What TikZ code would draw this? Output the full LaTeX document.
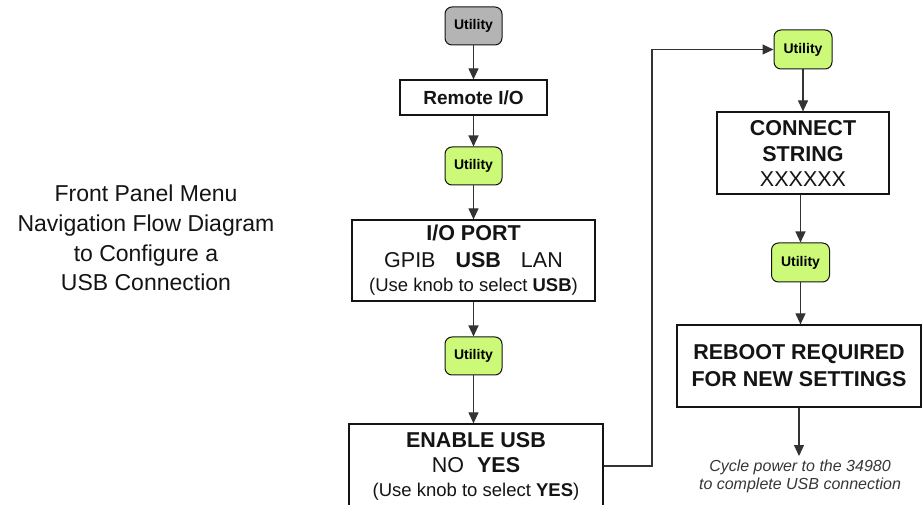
\documentclass[tikz,border=0pt]{standalone}
\usepackage{fontspec}
\setmainfont{Liberation Sans}
\usetikzlibrary{arrows.meta}
\definecolor{ugreen}{RGB}{204,250,120}
\definecolor{ugray}{RGB}{180,180,180}
\definecolor{ink}{RGB}{20,20,20}
\begin{document}
\begin{tikzpicture}[x=1pt,y=-1pt,
  utilbox/.style={draw=ink, line width=1pt, rounded corners=7pt, minimum width=57pt,
    minimum height=38pt, inner sep=0pt, font=\fontsize{14}{16}\selectfont\bfseries, fill=ugreen},
  menubox/.style={draw=ink, line width=1.2pt, fill=white, inner sep=0pt, align=center, text=ink,
    font=\fontsize{21.5}{26}\selectfont},
  flow/.style={line width=1.1pt, draw=black!80, -{Triangle[length=11pt,width=10pt]}},
  ]
\clip (0,0) rectangle (922,505);
\fill[white] (0,0) rectangle (922,505);

% left caption
\node[align=center, text=ink, font=\fontsize{23}{29.7}\selectfont] (caption) at (146,238)
  {Front Panel Menu\\Navigation Flow Diagram\\to Configure a\\USB Connection};

% left column
\node[utilbox, fill=ugray] (u1) at (473.5,26) {Utility};
\node[menubox, minimum width=147pt, minimum height=35pt, font=\fontsize{19}{22}\selectfont\bfseries] (remote) at (473.5,97.5) {Remote I/O};
\node[utilbox] (u2) at (473.5,166) {Utility};
\node[menubox, minimum width=243pt, minimum height=81pt] (ioport) at (473.5,260.5)
  {{\bfseries I/O PORT}\\[1pt]
   GPIB\hspace{20pt}\textbf{USB}\hspace{20pt}LAN\\[-2pt]
   {\fontsize{18.5}{22}\selectfont (Use knob to select \textbf{USB})}};
\node[utilbox] (u3) at (473.5,356) {Utility};
\node[menubox, minimum width=254pt, minimum height=84pt] (enable) at (476,466)
  {{\bfseries ENABLE USB}\\[-1pt]
   NO\hspace{13pt}\textbf{YES}\\[-2pt]
   {\fontsize{18.5}{22}\selectfont (Use knob to select \textbf{YES})}};

% right column
\node[utilbox, minimum width=58pt, minimum height=39pt] (u4) at (803,49.5) {Utility};
\node[menubox, minimum width=172pt, minimum height=82pt] (connect) at (803,153)
  {{\bfseries CONNECT}\\
   {\bfseries STRING}\\[-1pt]
   XXXXXX};
\node[utilbox, minimum width=58pt, minimum height=39pt] (u5) at (800.5,262.5) {Utility};
\node[menubox, minimum width=244pt, minimum height=82pt, font=\fontsize{21.5}{27}\selectfont\bfseries] (reboot) at (799,366)
  {REBOOT REQUIRED\\FOR NEW SETTINGS};
\coordinate (noteTop) at (799,456);
\node[align=center, text=ink!85, font=\fontsize{16}{18}\selectfont\itshape] (note) at (800,476)
  {Cycle power to the 34980\\to complete USB connection};

% connectors
\draw[flow] (u1) -- (remote);
\draw[flow] (remote) -- (u2);
\draw[flow] (u2) -- (ioport);
\draw[flow] (ioport) -- (u3);
\draw[flow] (u3.south) -- (u3.south |- enable.north);
\draw[flow] (enable.east) -- (652,466) -- (652,49.5) -- (u4.west);
\draw[flow] (u4) -- (u4.south |- connect.north);
\draw[flow] (connect.south -| u5.north) -- (u5);
\draw[flow] (u5.south) -- (u5.south |- reboot.north);
\draw[flow] (reboot.south) -- (noteTop);
\end{tikzpicture}
\end{document}
